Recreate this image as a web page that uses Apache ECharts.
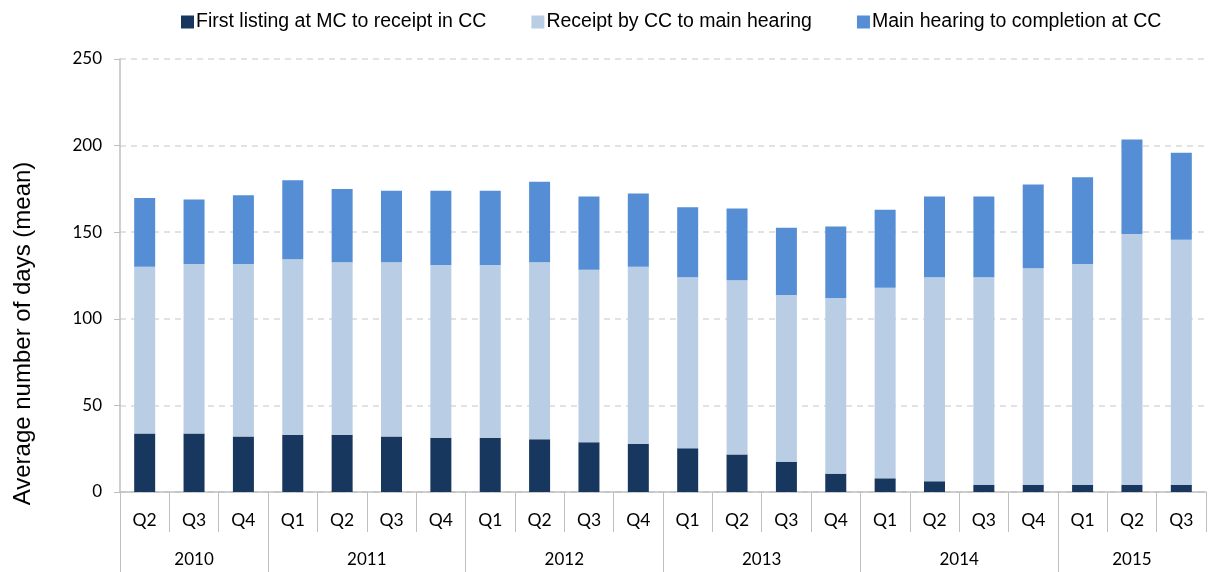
<!DOCTYPE html>
<html>
<head>
<meta charset="utf-8">
<script src="https://cdn.jsdelivr.net/npm/echarts@6/dist/echarts.min.js"></script>
<style>
  html, body { margin: 0; padding: 0; background: #fff; }
</style>
</head>
<body>
<!-- chart container -->
<div id="main" style="width: 1209px; height: 572px;"></div>
<script>
// quarters on the x axis (2010 Q2 .. 2015 Q3)
var quarters = ['Q2', 'Q3', 'Q4', 'Q1', 'Q2', 'Q3', 'Q4', 'Q1', 'Q2', 'Q3', 'Q4',
  'Q1', 'Q2', 'Q3', 'Q4', 'Q1', 'Q2', 'Q3', 'Q4', 'Q1', 'Q2', 'Q3']
// years and how many quarters each one covers
var years = ['2010', '2011', '2012', '2013', '2014', '2015']
var yearSpans = [3, 4, 4, 4, 4, 3]

var seriesNames = ['First listing at MC to receipt in CC', 'Receipt by CC to main hearing', 'Main hearing to completion at CC']
// average days per stage
var listingToReceipt = [33.8, 33.8, 32.1, 33.1, 33.1, 32.1, 31.3, 31.3, 30.4, 28.7, 27.9,
  25.2, 21.7, 17.5, 10.6, 7.9, 6.2, 4.2, 4.2, 4.2, 4.2, 4.2]
var receiptToHearing = [96.2, 97.9, 99.6, 101.3, 99.6, 100.6, 99.7, 99.7, 102.3, 99.6, 102.1,
  98.8, 100.6, 96.2, 101.4, 110, 117.8, 119.8, 125, 127.5, 144.8, 141.4]
var hearingToCompletion = [39.8, 37.2, 39.6, 45.6, 42.3, 41.3, 43, 43, 46.5, 42.3, 42.3,
  40.4, 41.4, 38.8, 41.3, 45, 46.6, 46.6, 48.3, 50, 54.5, 50.2]

var yTicks = [0, 50, 100, 150, 200, 250]
var colors = ['#17375E', '#B9CDE5', '#558ED5']

// year row: half-quarter slots, label at the middle of each year, tick at its left edge
var yearSlots = []
for (var i = 0; i <= quarters.length * 2; i++) yearSlots.push('')
var yearEdges = {}
var start = 0
years.forEach(function (y, k) {
  yearEdges[start * 2] = true
  yearSlots[start * 2 + yearSpans[k]] = y
  start += yearSpans[k]
})

var axisGrey = '#BFBFBF'
var numFont = 'Lato, "Open Sans", sans-serif'
var textFont = '"Liberation Sans", Arial, sans-serif'

var myChart = echarts.init(document.getElementById('main'))
var option = {
  animation: false,
  legend: {
    left: 176,
    top: 7,
    itemWidth: 13,
    itemHeight: 13,
    itemGap: 45,
    icon: 'rect',
    textStyle: {
      fontFamily: textFont,
      fontSize: 19.5,
      color: '#000',
      padding: [0, 0, 0, -3]
    },
    data: seriesNames
  },
  grid: {
    left: 120,
    right: 0,
    top: 59,
    bottom: 80
  },
  xAxis: [
    {
      type: 'category',
      data: quarters,
      boundaryGap: true,
      axisLine: { lineStyle: { color: axisGrey, width: 1.5 } },
      axisTick: { show: true, interval: 0, length: 40, lineStyle: { color: axisGrey } },
      axisLabel: { interval: 0, margin: 19, fontFamily: numFont, fontSize: 17.5, color: '#000' }
    },
    {
      type: 'category',
      data: yearSlots,
      boundaryGap: false,
      position: 'bottom',
      offset: 40,
      axisLine: { show: false },
      axisTick: {
        show: true,
        interval: function (idx) { return !!yearEdges[idx] },
        length: 40,
        lineStyle: { color: axisGrey }
      },
      axisLabel: { interval: 0, margin: 19, fontFamily: numFont, fontSize: 17, color: '#000' }
    }
  ],
  yAxis: {
    type: 'value',
    min: yTicks[0],
    max: yTicks[yTicks.length - 1],
    interval: 50,
    name: 'Average number of days (mean)',
    nameLocation: 'middle',
    nameGap: 85,
    nameTextStyle: { fontFamily: textFont, fontSize: 24, color: '#000', padding: [0, 116, 0, 0] },
    axisLine: { show: true, lineStyle: { color: axisGrey, width: 1.5 } },
    axisTick: { show: true, length: 6, lineStyle: { color: axisGrey } },
    axisLabel: { margin: 18, fontFamily: numFont, fontSize: 17, color: '#000' },
    splitLine: { lineStyle: { color: '#D9D9D9', type: [6, 5], width: 1.5 } }
  },
  series: [
    {
      name: seriesNames[0],
      type: 'bar',
      stack: 'days',
      barWidth: 21,
      itemStyle: { color: colors[0] },
      data: listingToReceipt
    },
    {
      name: seriesNames[1],
      type: 'bar',
      stack: 'days',
      barWidth: 21,
      itemStyle: { color: colors[1] },
      data: receiptToHearing
    },
    {
      name: seriesNames[2],
      type: 'bar',
      stack: 'days',
      barWidth: 21,
      itemStyle: { color: colors[2] },
      data: hearingToCompletion
    }
  ]
}
myChart.setOption(option)
</script>
</body>
</html>
